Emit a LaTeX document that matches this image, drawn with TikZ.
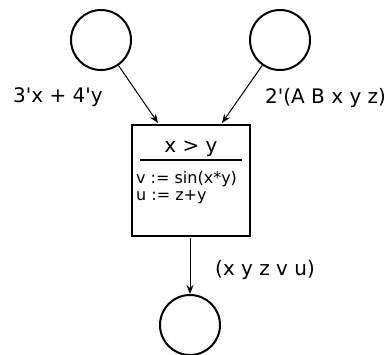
\documentclass[tikz,border=0pt]{standalone}
\usepackage{fontspec}
\setmainfont{DejaVu Sans}[Ligatures=TeXOff]
\usetikzlibrary{arrows.meta}
\begin{document}
\begin{tikzpicture}[x=1pt,y=-1pt,
  place/.style={circle,draw,line width=2pt,minimum size=60pt,inner sep=0pt},
  trans/.style={draw,line width=2pt,minimum width=118pt,minimum height=111pt,inner sep=0pt},
  arr/.style={line width=1pt,-{Stealth[length=9pt,width=7pt,inset=3pt]}},
  big/.style={inner sep=0pt,font=\fontsize{20}{24}\selectfont},
  small/.style={inner sep=0pt,font=\fontsize{16}{19}\selectfont}]
\useasboundingbox (0,0) rectangle (387,354);
\node[place] (p1) at (101,40) {};
\node[place] (p2) at (280,40) {};
\node[place] (p3) at (190,325) {};
\node[trans] (t) at (191,180.5) {};
\coordinate (s1) at (140,160);
\coordinate (s2) at (242,160);
\draw[line width=1.3pt] (s1) -- (s2);
\node[big,anchor=base] (g) at (191,152) {x > y};
\node[small,anchor=base west] (a1) at (136,183) {v := sin(x*y)};
\node[small,anchor=base west] (a2) at (136,200) {u := z+y};
\coordinate (i1) at (158,123);
\coordinate (i2) at (222,123);
\coordinate (o1) at (190,238);
\draw[arr] (p1) -- (i1);
\draw[arr] (p2) -- (i2);
\draw[arr] (o1) -- (p3);
\node[big,anchor=base west] (l1) at (13,102) {3'x + 4'y};
\node[big,anchor=base west] (l2) at (265,103) {2'(A B x y z)};
\node[big,anchor=base west] (l3) at (215,275) {(x y z v u)};
\end{tikzpicture}
\end{document}
